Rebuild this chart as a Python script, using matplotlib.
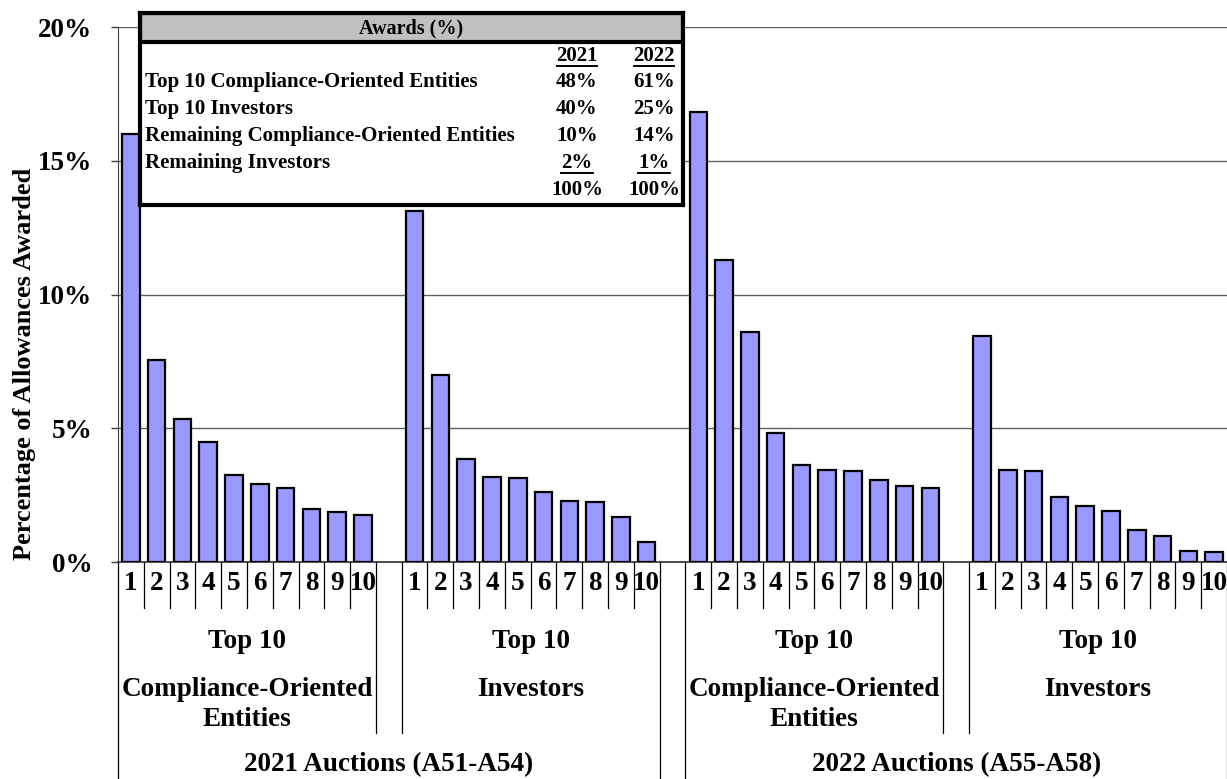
import numpy as np
import matplotlib
matplotlib.use("Agg")
import matplotlib.pyplot as plt
import matplotlib.transforms as mtransforms
from matplotlib.patches import Rectangle

plt.rcParams['font.family'] = ['Liberation Serif', 'DejaVu Serif']
plt.rcParams['font.weight'] = 'bold'

# percentage of allowances awarded, ranked 1-10
comp_2021 = [16.0, 7.55, 5.34, 4.49, 3.24, 2.93, 2.75, 1.99, 1.87, 1.77]
inv_2021 = [13.14, 7.01, 3.84, 3.19, 3.15, 2.61, 2.28, 2.23, 1.70, 0.74]
comp_2022 = [16.82, 11.28, 8.61, 4.82, 3.62, 3.45, 3.39, 3.07, 2.83, 2.77]
inv_2022 = [8.46, 3.44, 3.39, 2.43, 2.11, 1.89, 1.18, 0.97, 0.40, 0.36]

ranks = [str(i) for i in range(1, 11)]
sub_labels = ["Top 10\n\nCompliance-Oriented\nEntities", "Top 10\n\nInvestors",
              "Top 10\n\nCompliance-Oriented\nEntities", "Top 10\n\nInvestors"]
group_labels = ["2021 Auctions (A51-A54)", "2022 Auctions (A55-A58)"]

table_rows = ["Top 10 Compliance-Oriented Entities", "Top 10 Investors",
              "Remaining Compliance-Oriented Entities", "Remaining Investors"]
table_2021 = ["48%", "40%", "10%", "2%"]
table_2022 = ["61%", "25%", "14%", "1%"]
table_total = ["100%", "100%"]

W, H = 1227, 779
fig = plt.figure(figsize=(W / 100, H / 100), dpi=100)
x0, x1, y0, y1 = 118, 1227, 562, 27.2
ax = fig.add_axes([x0 / W, (H - y0) / H, (x1 - x0) / W, (y0 - y1) / H])

series = [comp_2021, inv_2021, comp_2022, inv_2022]
starts = [0, 11, 22, 33]
for s, vals in zip(starts, series):
    xs = np.arange(s, s + len(vals))
    ax.bar(xs, vals, width=0.68, color='#9999FF', edgecolor='black', linewidth=1.6, zorder=3)

cat_fs = 19.5
ax.set_xlim(-0.5, 42.5)
ax.set_ylim(0, 20)
ax.set_yticks([0, 5, 10, 15, 20])
ax.set_yticklabels(["0%", "5%", "10%", "15%", "20%"], fontsize=cat_fs, fontweight='bold')
ax.yaxis.grid(True, color='#606060', linewidth=1.0, zorder=0)
ax.tick_params(axis='y', length=5, width=1, direction='out', pad=13.5, colors='#404040', labelcolor='black')
ax.set_xticks([])
for sp in ['top', 'right']:
    ax.spines[sp].set_visible(False)
ax.spines['left'].set_color('#404040')
ax.spines['bottom'].set_color('#303030')
ax.spines['bottom'].set_linewidth(1.2)

ph = y0 - y1
def yax(py):
    return (y0 - py) / ph

trans = mtransforms.blended_transform_factory(ax.transData, ax.transAxes)

def vline(x, ybot):
    ax.plot([x, x], [0, yax(ybot)], color='black', linewidth=0.9, transform=trans, clip_on=False)

for s in starts:
    for i, r in enumerate(ranks):
        ax.text(s + i, yax(584), r, transform=trans, ha='center', va='center', fontsize=cat_fs, fontweight='bold')
    for i in range(1, 10):
        vline(s + i - 0.5, 608)

for k, s in enumerate(starts):
    left_long = s in (0, 22)
    vline(s - 0.5, 779 if left_long else 733)
    vline(s + 9.5, 733 if left_long else 779)
    lab = sub_labels[k].split("\n")
    ax.text(s + 4.5, yax(641), lab[0], transform=trans, ha='center', va='center', fontsize=cat_fs, fontweight='bold')
    ax.text(s + 4.5, yax(689), lab[2], transform=trans, ha='center', va='center', fontsize=cat_fs, fontweight='bold')
    if len(lab) > 3:
        ax.text(s + 4.5, yax(719), lab[3], transform=trans, ha='center', va='center', fontsize=cat_fs, fontweight='bold')

for g, lab in enumerate(group_labels):
    ax.text(10 + g * 22, yax(765), lab, transform=trans, ha='center', va='center', fontsize=cat_fs, fontweight='bold')

fig.text(25 / W, 1 - 364 / H, "Percentage of Allowances Awarded", rotation=90,
         ha='center', va='center', fontsize=19, fontweight='bold')

# inset summary table
bx0, bx1, by0, by1 = 140, 683, 13, 205
tab = fig.add_axes([bx0 / W, (H - by1) / H, (bx1 - bx0) / W, (by1 - by0) / H])
tab.set_xlim(bx0, bx1)
tab.set_ylim(by1, by0)
tab.set_xticks([])
tab.set_yticks([])
for sp in tab.spines.values():
    sp.set_linewidth(3)
tab.add_patch(Rectangle((bx0, by0), bx1 - bx0, 29, facecolor='#C0C0C0', edgecolor='black', linewidth=3))
tab.text((bx0 + bx1) / 2, 28, "Awards (%)", ha='center', va='center', fontsize=14.5, fontweight='bold')
cx = [577, 654]
fs = 15
for c, yr in zip(cx, ["2021", "2022"]):
    tab.text(c, 56, yr, ha='center', va='center', fontsize=fs, fontweight='bold')
    tab.plot([c - 20, c + 20], [66, 66], color='black', linewidth=1.4)
ry = [82, 109, 136, 163]
for i, (name, a, b) in enumerate(zip(table_rows, table_2021, table_2022)):
    tab.text(145, ry[i], name, ha='left', va='center', fontsize=fs, fontweight='bold')
    tab.text(cx[0], ry[i], a, ha='center', va='center', fontsize=fs, fontweight='bold')
    tab.text(cx[1], ry[i], b, ha='center', va='center', fontsize=fs, fontweight='bold')
for c, tot in zip(cx, table_total):
    tab.plot([c - 16, c + 16], [173, 173], color='black', linewidth=1.4)
    tab.text(c, 190, tot, ha='center', va='center', fontsize=fs, fontweight='bold')

fig.savefig("out.png", dpi=100)
